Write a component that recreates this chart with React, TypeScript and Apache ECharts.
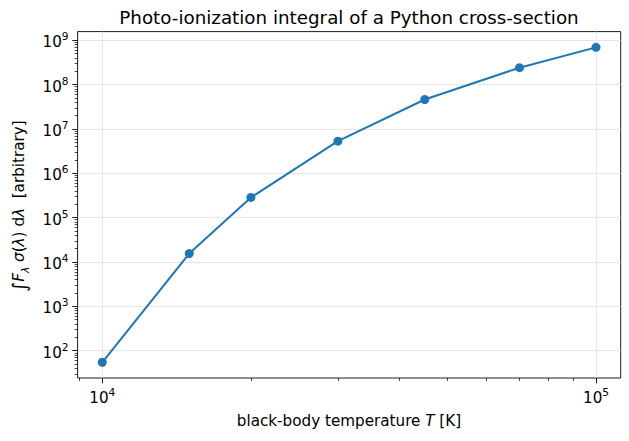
import React, { useEffect, useRef } from "react";
import * as echarts from "echarts";

// ---- data ----
const TEMPERATURES = [1e4, 1.5e4, 2e4, 3e4, 4.5e4, 7e4, 1e5];
const INTEGRALS = [55, 1.55e4, 2.85e5, 5.3e6, 4.6e7, 2.4e8, 6.9e8];
const X_MAJOR_EXPONENTS = [4, 5];
const Y_MAJOR_EXPONENTS = [2, 3, 4, 5, 6, 7, 8, 9];
const MINOR_MULTIPLIERS = [2, 3, 4, 5, 6, 7, 8, 9];
const TITLE = "Photo-ionization integral of a Python cross-section";

const FONT = "DejaVu Sans";
const BLUE = "#1f77b4";

function logExtent(vals: number[]) {
  const l = vals.map((v) => Math.log10(v));
  const lo = Math.min(...l);
  const hi = Math.max(...l);
  const m = (hi - lo) * 0.05;
  return [lo - m, hi + m];
}

function minorTicks(ext: number[]) {
  const out: number[] = [];
  for (let e = Math.floor(ext[0]); e <= Math.ceil(ext[1]); e++) {
    for (const m of MINOR_MULTIPLIERS) {
      const v = e + Math.log10(m);
      if (v >= ext[0] && v <= ext[1]) out.push(v);
    }
  }
  return out;
}

const supRich = {
  b: { fontFamily: FONT, fontSize: 15.2, color: "#000", lineHeight: 19, verticalAlign: "bottom" },
  s: { fontFamily: FONT, fontSize: 10.6, color: "#000", lineHeight: 12, verticalAlign: "top" },
};
const powLabel = (v: number) => `{b|10}{s|${Math.round(v)}}`;

export default function App() {
  const ref = useRef<HTMLDivElement>(null);
  useEffect(() => {
    if (!ref.current) return;
    const chart = echarts.init(ref.current, null, { renderer: "svg" });
    const xExt = logExtent(TEMPERATURES);
    const yExt = logExtent(INTEGRALS);
    const xMinor = minorTicks(xExt);
    const yMinor = minorTicks(yExt);
    const grid = { left: 77.6, right: 8.3, top: 31.6, bottom: 63, show: true, borderColor: "#000", borderWidth: 0.9, containLabel: false };
    const baseAxis = {
      type: "value" as const,
      axisLine: { show: false },
    };
    chart.setOption({
      animation: false,
      grid,
      xAxis: [
        {
          ...baseAxis,
          min: xExt[0],
          max: xExt[1],
          position: "bottom",
          axisTick: { show: true, length: 5.3, lineStyle: { color: "#000", width: 0.9 }, customValues: X_MAJOR_EXPONENTS },
          axisLabel: { show: true, margin: 8, formatter: powLabel, rich: supRich, customValues: X_MAJOR_EXPONENTS },
          splitLine: { show: true, lineStyle: { color: "#e3e3e3", width: 0.9 } },
        },
        {
          ...baseAxis,
          min: xExt[0],
          max: xExt[1],
          position: "bottom",
          axisTick: { show: true, length: 3, lineStyle: { color: "#000", width: 0.7 }, customValues: xMinor },
          axisLabel: { show: false },
          splitLine: { show: false },
        },
      ],
      yAxis: [
        {
          ...baseAxis,
          min: yExt[0],
          max: yExt[1],
          position: "left",
          axisTick: { show: true, length: 5.3, lineStyle: { color: "#000", width: 0.9 }, customValues: Y_MAJOR_EXPONENTS },
          axisLabel: { show: true, margin: 9, formatter: powLabel, rich: supRich, align: "right", customValues: Y_MAJOR_EXPONENTS },
          splitLine: { show: true, lineStyle: { color: "#e3e3e3", width: 0.9 } },
        },
        {
          ...baseAxis,
          min: yExt[0],
          max: yExt[1],
          position: "left",
          axisTick: { show: true, length: 3, lineStyle: { color: "#000", width: 0.7 }, customValues: yMinor },
          axisLabel: { show: false },
          splitLine: { show: false },
        },
      ],
      series: [
        {
          type: "line",
          xAxisIndex: 0,
          yAxisIndex: 0,
          data: TEMPERATURES.map((t, i) => [Math.log10(t), Math.log10(INTEGRALS[i])]),
          symbol: "circle",
          symbolSize: 9,
          lineStyle: { color: BLUE, width: 2 },
          itemStyle: { color: BLUE },
          z: 5,
        },
      ],
      graphic: [
        {
          type: "text",
          x: 349,
          y: 17,
          style: { text: TITLE, font: `18.3px "${FONT}"`, fill: "#000", align: "center", verticalAlign: "middle" },
        },
        {
          type: "text",
          x: 349,
          y: 421,
          style: {
            text: "{n|black-body temperature }{i|T}{n| [K]}",
            align: "center",
            verticalAlign: "middle",
            rich: {
              n: { fontFamily: FONT, fontSize: 15.2, fill: "#000" },
              i: { fontFamily: FONT, fontSize: 15.2, fontStyle: "italic", fill: "#000" },
            },
          },
        },
        {
          type: "text",
          x: 19,
          y: 206,
          rotation: Math.PI / 2,
          style: {
            text: "{int|∫}{i|F}{sub|λ}{n| }{i|σ}{n|(}{i|λ}{n|) d}{i|λ}{n|  [arbitrary]}",
            align: "center",
            verticalAlign: "middle",
            rich: {
              int: { fontFamily: FONT, fontSize: 19, fontStyle: "italic", fill: "#000", lineHeight: 22, verticalAlign: "middle" },
              n: { fontFamily: FONT, fontSize: 15.2, fill: "#000", lineHeight: 22, verticalAlign: "middle" },
              i: { fontFamily: FONT, fontSize: 15.2, fontStyle: "italic", fill: "#000", lineHeight: 22, verticalAlign: "middle" },
              sub: { fontFamily: FONT, fontSize: 10.6, fontStyle: "italic", fill: "#000", lineHeight: 13, verticalAlign: "bottom" },
            },
          },
        },
      ],
    });
    return () => chart.dispose();
  }, []);
  return <div ref={ref} style={{ width: 629, height: 441, position: "absolute", left: 0, top: 0 }} />;
}
